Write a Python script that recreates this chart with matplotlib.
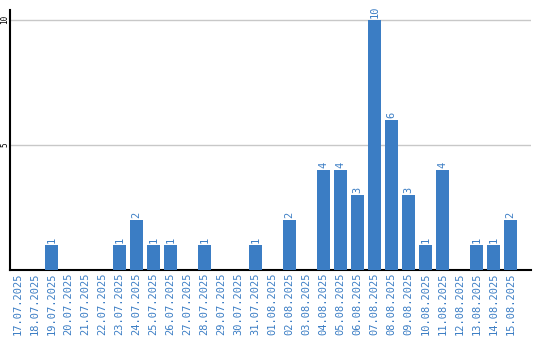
import matplotlib
matplotlib.use("Agg")
from matplotlib import pyplot as plt

dates = ['17.07.2025', '18.07.2025', '19.07.2025', '20.07.2025', '21.07.2025',
         '22.07.2025', '23.07.2025', '24.07.2025', '25.07.2025', '26.07.2025',
         '27.07.2025', '28.07.2025', '29.07.2025', '30.07.2025', '31.07.2025',
         '01.08.2025', '02.08.2025', '03.08.2025', '04.08.2025', '05.08.2025',
         '06.08.2025', '07.08.2025', '08.08.2025', '09.08.2025', '10.08.2025',
         '11.08.2025', '12.08.2025', '13.08.2025', '14.08.2025', '15.08.2025']
counts = [0, 0, 1, 0, 0, 0, 1, 2, 1, 1,
          0, 1, 0, 0, 1, 0, 2, 0, 4, 4,
          3, 10, 6, 3, 1, 4, 0, 1, 1, 2]
yticks = [5, 10]

blue = '#3b7dc4'
plt.rcParams['font.family'] = ['DejaVu Sans Mono']

fig = plt.figure(figsize=(5.4, 3.4), dpi=100)
ax = fig.add_axes([0.0185, 0.206, 0.965, 0.765])

x = list(range(len(dates)))
ax.bar(x, counts, width=0.8, color=blue, zorder=3)
for xi, c in zip(x, counts):
    if c > 0:
        ax.text(xi, c + 0.08, str(c), rotation=90, ha='center', va='bottom',
                color=blue, fontsize=7.5)

ax.set_xlim(-0.45, 30.2)
ax.set_ylim(0, 10.4)
ax.set_xticks(x)
ax.set_xticklabels(dates, rotation=90, color=blue, fontsize=7.5)
ax.set_yticks(yticks)
ax.set_yticklabels([str(t) for t in yticks], rotation=90, va='center', fontsize=5.5)
ax.tick_params(axis='x', length=0, pad=2)
ax.tick_params(axis='y', length=0, pad=0.5)
ax.grid(axis='y', color='#c8c8c8', linewidth=1, zorder=0)
for s in ['top', 'right']:
    ax.spines[s].set_visible(False)
ax.spines['left'].set_linewidth(1.5)
ax.spines['bottom'].set_linewidth(1.5)

fig.savefig('out.png', dpi=100)
